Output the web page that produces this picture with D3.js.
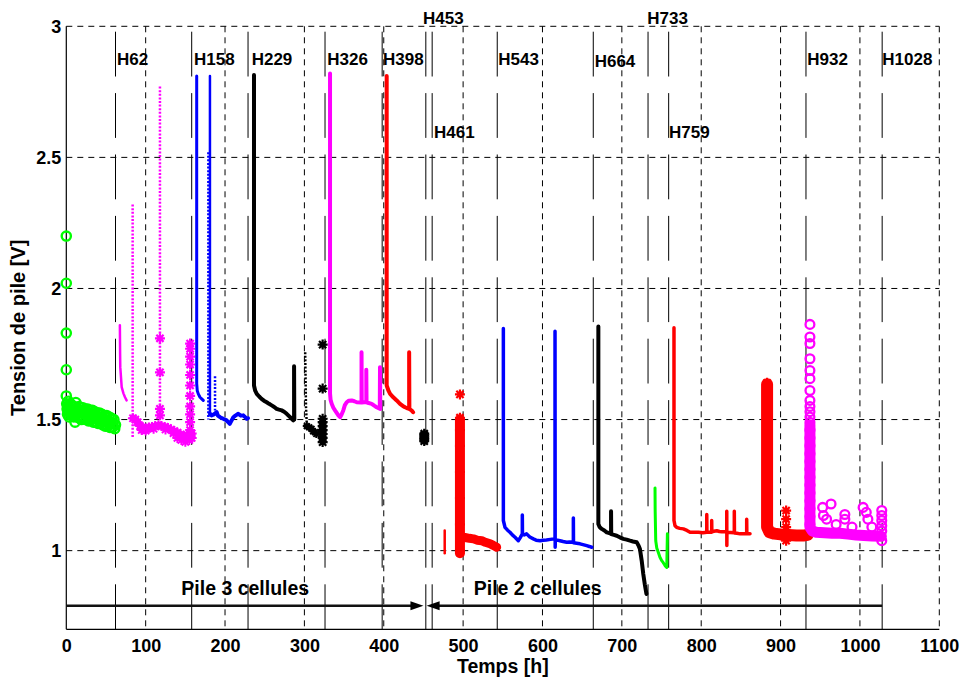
<!DOCTYPE html>
<html><head><meta charset="utf-8">
<script src="https://cdn.jsdelivr.net/npm/d3@7"></script>
<style>
html,body{margin:0;padding:0;background:#fff;}
svg{display:block;}
text{font-family:"Liberation Sans",Arial,Helvetica,sans-serif;font-weight:bold;fill:#000;}
</style></head><body>
<svg id="c" width="963" height="677"></svg>
<script>
// ---------- axis / ticks ----------
const xTicks = [0,100,200,300,400,500,600,700,800,900,1000,1100];
const yTicks = [1,1.5,2,2.5,3];
const xTitle = "Temps [h]";
const yTitle = "Tension de pile [V]";

// ---------- event markers ----------
const eventHours = [62,158,229,326,398,453,461,543,664,733,759,932,1028];
const eventLabelX = [63.9,160.9,233.6,328.9,399,449.5,463.3,544.4,665.8,732.1,759.4,933.7,1028.2];
const eventLabelV = [2.852,2.852,2.852,2.852,2.852,3.009,2.573,2.852,2.846,3.009,2.573,2.852,2.852];

// ---------- stack annotations ----------
const pileLabels = ["Pile 3 cellules","Pile 2 cellules"];
const pileLabelX = [225.5,594];
const pileLabelV = 0.831;
const arrowV = 0.79;
const arrow3 = [0,450];     // from, tip
const arrow2 = [1028,454];  // from, tip

// ---------- measured series ----------
const greenCircles = [
[0,2.20],[0,2.02],[0,1.83],[0,1.69],[0,1.59],
[0.5,1.56],[1,1.54],[1.5,1.52],[2,1.55],[2.5,1.57],[3,1.53],[3.5,1.51],[4,1.545],[5,1.56],[5.5,1.52],[6,1.54],[7,1.555],[7.5,1.515],[8,1.535],[9,1.55],[9.5,1.51],[10,1.53],[11,1.49],[12,1.565],[12.5,1.52],[13,1.545],[14,1.51],[15,1.535],[16,1.55],[16.5,1.505],[17,1.525],[18,1.545],[19,1.50],[20,1.53],[21,1.545],[22,1.505],[23,1.525],[24,1.54],[25,1.50],[26,1.52],[27,1.54],[28,1.495],[29,1.515],[30,1.535],[31,1.50],[32,1.52],[33,1.535],[34,1.49],[35,1.51],[36,1.53],[37,1.49],[38,1.505],[39,1.525],[40,1.485],[41,1.505],[42,1.525],[43,1.485],[44,1.50],[45,1.52],[46,1.48],[47,1.50],[48,1.515],[49,1.475],[50,1.495],[51,1.515],[52,1.475],[53,1.49],[54,1.51],[55,1.47],[56,1.49],[57,1.505],[58,1.47],[59,1.485],[60,1.50],[61,1.465],[62,1.48]
];
const magenta1 = [[67.5,1.86],[67.8,1.75],[68,1.70],[69.8,1.624],[72,1.60],[74,1.585],[76,1.573]];
const magentaDot1 = [[83.6,2.32],[83.6,1.43]];
const magentaDot2 = [[118,2.77],[118,1.47]];
const magentaStarsA = [[118,1.81],[118,1.68],[118,1.541],[118,1.516]];
const magentaBand = [[84,1.505],[87,1.50],[90,1.49],[93,1.475],[95,1.46],[98,1.465],[101,1.465],[104,1.47],[108,1.472],[112,1.475],[116,1.478],[120,1.475],[124,1.472],[128,1.468],[132,1.462],[136,1.456],[140,1.45],[144,1.443],[148,1.438],[152,1.44],[156,1.443],[158,1.447]];
const magentaStarsB = [[140,1.43],[145,1.422],[150,1.415],[155,1.422],[158,1.43],[100,1.458],[110,1.465],[125,1.462],[135,1.448]];
const magentaStarsCol = [[156,1.79],[156,1.77],[156,1.74],[156,1.71],[156,1.67],[156,1.63],[156,1.59],[156,1.55],[156,1.52],[156,1.49],[156,1.46],[156,1.43]];
const blue1 = [[164.3,2.81],[164.3,1.637],[165,1.61],[166.3,1.598],[168.5,1.585],[170.6,1.579],[172.6,1.573]];
const blue2 = [[181,2.81],[181,1.52]];
const blueDot1 = [[179,2.52],[179,1.50]];
const blueDot2 = [[187.4,1.665],[187.4,1.535]];
const blueBand = [[181,1.522],[183,1.516],[186,1.52],[189.5,1.528],[191,1.515],[193.7,1.509],[197.8,1.503],[200,1.50],[202,1.497],[204,1.49],[206,1.484],[208,1.495],[210.5,1.509],[213,1.515],[216.7,1.522],[220,1.515],[223,1.516],[225,1.51],[227.3,1.503],[229,1.505]];
const black1 = [[236.5,2.814],[236.5,1.63],[238,1.61],[240,1.598],[243,1.588],[246,1.579],[249,1.572],[252.5,1.566],[255.5,1.56],[258.8,1.554],[262,1.548],[265,1.541],[268,1.538],[271.4,1.535],[274.5,1.53],[277.7,1.522],[281,1.512],[284,1.503],[286,1.497],[287,1.50],[287,1.703],[287.3,1.50]];
const blackDot = [[301,1.757],[301.5,1.65],[302,1.55],[303,1.484]];
const blackStarsA = [[303,1.475],[306,1.47],[309,1.465],[311,1.455],[313.4,1.452],[315,1.445]];
const blackStarsCol = [[323,1.786],[323,1.618],[323,1.503],[323,1.49],[323,1.475],[323,1.46],[323,1.445],[323,1.43],[323,1.414]];
const magenta2 = [[332.3,2.82],[332.3,1.60],[333,1.575],[334.4,1.56],[336.5,1.545],[338.6,1.535],[342.8,1.516],[345,1.509],[347,1.52],[349,1.535],[351,1.555],[353.3,1.566],[356,1.572],[359.6,1.573],[363,1.57],[366,1.566],[372,1.565],[372,1.757],[372.3,1.565],[375,1.566],[378,1.566],[378,1.69],[378.3,1.566],[381,1.563],[384.8,1.56],[388,1.553],[391,1.547],[395,1.541],[395.3,1.70],[395.6,1.54]];
const red1 = [[403.7,2.81],[403.7,1.63],[406,1.61],[408,1.598],[412,1.585],[416.3,1.573],[420.5,1.56],[424,1.552],[426.8,1.547],[430,1.543],[432,1.541],[432,1.757],[432.3,1.54],[435,1.535],[437,1.528]];
const blackStarsB = [[451,1.446],[451,1.44],[451,1.432],[451,1.425],[451,1.418]];
const redSmall = [[476.8,1.077],[476.8,0.99]];
const redCol1 = [[496,1.50],[496,0.99]];
const redStars1 = [[496,1.596],[496,1.507],[496,1.46],[496,1.40],[496,1.30],[496,1.20],[496,1.10],[496,1.00]];
const redBand1 = [[496,1.05],[502.4,1.05],[508,1.047],[513,1.045],[518,1.04],[523.4,1.038],[528,1.032],[534,1.026],[538,1.02],[542.3,1.013]];
const blue3 = [[550.7,1.847],[550.7,1.115],[552.8,1.089],[556,1.078],[559,1.07],[562,1.06],[565.4,1.051],[569.6,1.038],[572,1.05],[574.6,1.064],[574.6,1.136],[574.8,1.062],[577,1.06],[580,1.064],[584,1.052],[588.5,1.045],[592,1.04],[597,1.038],[601,1.04],[605,1.041],[610,1.043],[615.8,1.045],[615.8,1.837],[616,1.013],[616.2,1.04],[619,1.04],[622,1.038],[626,1.035],[630.5,1.032],[634,1.033],[638.9,1.032],[638.9,1.125],[639.1,1.03],[643,1.028],[647.3,1.026],[651,1.023],[655.7,1.019],[659,1.016],[662,1.013]];
const black2 = [[670.4,1.855],[670.4,1.102],[672,1.09],[674.6,1.083],[678,1.077],[681,1.07],[686.4,1.065],[686.4,1.15],[686.6,1.063],[690,1.06],[693.5,1.057],[698,1.05],[701.9,1.045],[706,1.042],[710.3,1.038],[714,1.035],[718.7,1.032],[721,1.02],[722.8,1.006],[725,0.962],[727,0.911],[729,0.87],[731,0.835]];
const green2 = [[741.8,1.239],[742,1.15],[742.7,1.038],[744,1.01],[746,0.993],[748,0.975],[750.2,0.962],[752,0.955],[754.4,0.943],[756.6,0.936],[757,1.0],[757.4,1.064]];
const red3 = [[765.7,1.85],[765.7,1.115],[767,1.095],[769,1.089],[773,1.085],[777.5,1.083],[782,1.077],[786,1.07],[791,1.07],[796.4,1.07],[802,1.068],[807,1.07],[807,1.138],[807.2,1.07],[810,1.07],[813.2,1.07],[813.2,1.115],[813.4,1.072],[816,1.074],[819.6,1.076],[823,1.073],[826,1.072],[832.2,1.072],[832.2,1.15],[832.3,1.02],[832.4,1.07],[837,1.069],[841.7,1.068],[841.7,1.15],[841.9,1.067],[845,1.066],[849,1.064],[853,1.064],[857.3,1.064],[857.3,1.12],[857.5,1.064],[861.5,1.064]];
const redBand2 = [[883,1.635],[883,1.09],[886,1.07],[892,1.065],[900,1.062],[910,1.06],[920,1.058],[930,1.058],[934,1.06]];
const redStars2 = [[883,1.64],[883,1.60],[883,1.55],[883,1.50],[883,1.45],[883,1.40],[883,1.35],[883,1.30],[883,1.25],[883,1.20],[883,1.15],[883,1.10],[907,1.153],[907,1.12],[907,1.09],[907,1.06],[907,1.038]];
const magentaCol = [[937,1.48],[937,1.09],[940,1.075],[945,1.07],[955,1.068],[965,1.066],[975,1.066],[985,1.063],[995,1.06],[1005,1.058],[1015,1.056],[1027,1.055]];
const magentaCircles = [[937,1.863],[937,1.815],[937,1.79],[937,1.732],[937,1.687],[937,1.656],[937,1.611],[937,1.573],[937,1.55],[937,1.53],[937,1.51],[937,1.49],[937,1.46],[937,1.43],[937,1.40],[937,1.37],[937,1.34],[937,1.31],[937,1.28],[937,1.25],[937,1.22],[937,1.19],[937,1.16],[937,1.13],[937,1.10],
[953,1.165],[963.6,1.178],[954,1.134],[958,1.12],[981,1.138],[981,1.12],[1004,1.165],[1008,1.146],[1010,1.12],[1027.5,1.153],[1027.5,1.134],[1027.5,1.115],[1027.5,1.095],[1027.5,1.075],[1027.5,1.038],[970,1.10],[990,1.09],[1015,1.09]];

// ---------- drawing ----------
const svg = d3.select("#c");
const x = d3.scaleLinear().domain([0,1100]).range([66.3,939.3]);
const y = d3.scaleLinear().domain([0.7,3]).range([629.3,26.3]);
const [L,R] = x.range(), [B,T] = y.range();

// grid
const g = svg.append("g");
g.selectAll(".vg").data(xTicks.filter(d=>d>0)).join("line")
  .attr("x1",d=>x(d)).attr("x2",d=>x(d)).attr("y1",T).attr("y2",B)
  .attr("stroke","#000").attr("stroke-width",1).attr("stroke-dasharray","6,5");
g.selectAll(".hg").data(yTicks).join("line")
  .attr("x1",L).attr("x2",R).attr("y1",d=>y(d)).attr("y2",d=>y(d))
  .attr("stroke","#000").attr("stroke-width",1).attr("stroke-dasharray","6,5");

// event lines
g.selectAll(".ev").data(eventHours).join("line")
  .attr("x1",d=>x(d)).attr("x2",d=>x(d)).attr("y1",31.7).attr("y2",B)
  .attr("stroke","#000").attr("stroke-width",1).attr("stroke-dasharray","44.8,16.6");

// axes lines
svg.append("line").attr("x1",L).attr("x2",L).attr("y1",T).attr("y2",B).attr("stroke","#000").attr("stroke-width",1.2);
svg.append("line").attr("x1",L).attr("x2",R).attr("y1",B).attr("y2",B).attr("stroke","#000").attr("stroke-width",1.2);

// axis labels via d3 axes
const xa = svg.append("g").attr("transform",`translate(0,${B})`)
  .call(d3.axisBottom(x).tickValues(xTicks).tickFormat(d3.format("d")).tickSize(0).tickPadding(10));
xa.select(".domain").remove();
xa.selectAll("text").style("font-size","18px").style("font-family","Liberation Sans, Arial, sans-serif").style("font-weight","bold").attr("fill","#000");
const ya = svg.append("g").attr("transform",`translate(${L},0)`)
  .call(d3.axisLeft(y).tickValues(yTicks).tickFormat(d=>String(d)).tickSize(0).tickPadding(5));
ya.select(".domain").remove();
ya.selectAll("text").style("font-size","18px").style("font-family","Liberation Sans, Arial, sans-serif").style("font-weight","bold").attr("fill","#000");

svg.append("text").attr("x",(L+R)/2).attr("y",673).attr("text-anchor","middle").style("font-size","19.5px").text(xTitle);
svg.append("text").attr("transform",`translate(25,${(T+B)/2}) rotate(-90)`).attr("text-anchor","middle").style("font-size","20px").text(yTitle);

// data helpers
const line = d3.line().x(d=>x(d[0])).y(d=>y(d[1]));
const plotG = svg.append("g");
function path(data,color,w,dash){
  const p = plotG.append("path").attr("d",line(data)).attr("fill","none").attr("stroke",color)
    .attr("stroke-width",w).attr("stroke-linejoin","round").attr("stroke-linecap",dash?"butt":"round");
  if(dash) p.attr("stroke-dasharray",dash);
}
function stars(data,color,s,w){
  const k = s*0.72;
  plotG.append("g").selectAll("path").data(data).join("path")
    .attr("transform",d=>`translate(${x(d[0])},${y(d[1])})`)
    .attr("d",`M${-s},0H${s}M0,${-s}V${s}M${-k},${-k}L${k},${k}M${-k},${k}L${k},${-k}`)
    .attr("stroke",color).attr("stroke-width",w||2).attr("fill","none");
}
function circles(data,color,r,w){
  plotG.append("g").selectAll("circle").data(data).join("circle")
    .attr("cx",d=>x(d[0])).attr("cy",d=>y(d[1])).attr("r",r)
    .attr("fill","none").attr("stroke",color).attr("stroke-width",w);
}
const GRN="#00ff00", MAG="#ff00ff", BLU="#0000ff", RED="#ff0000", BLK="#000000";
const DOT="2,1.6";

circles(greenCircles,GRN,4.6,2.4);
path(magenta1,MAG,2.5);
path(magentaDot1,MAG,2.5,DOT);
path(magentaDot2,MAG,2.5,DOT);
path(magentaBand,MAG,7);
stars(magentaBand,MAG,5,2);
stars(magentaStarsB,MAG,5,2);
stars(magentaStarsA,MAG,5,2.2);
stars(magentaStarsCol,MAG,5,2.2);
path(blue1,BLU,3);
path(blue2,BLU,2.5);
path(blueDot1,BLU,2.5,DOT);
path(blueDot2,BLU,2.5,DOT);
path(blueBand,BLU,4);
path(black1,BLK,4);
path(blackDot,BLK,2.5,DOT);
stars(blackStarsA,BLK,4,2);
stars(blackStarsCol,BLK,5,2.2);
path(magenta2,MAG,4);
path(red1,RED,4);
stars(blackStarsB,BLK,5,2.2);
path(redSmall,RED,2.5);
path(redCol1,RED,10);
stars(redStars1,RED,5,2.2);
path(redBand1,RED,9);
path(blue3,BLU,3.5);
path(black2,BLK,4);
path(green2,GRN,3);
path(red3,RED,3.5);
path(redBand2,RED,12);
stars(redStars2,RED,5,2.2);
path(magentaCol,MAG,11);
circles(magentaCircles,MAG,4.4,2.3);

// event labels
svg.append("g").selectAll("text").data(eventHours).join("text")
  .attr("x",(d,i)=>x(eventLabelX[i])).attr("y",(d,i)=>y(eventLabelV[i]))
  .style("font-size","17px").text(d=>"H"+d);

// stack annotation
const ay = y(arrowV);
svg.append("line").attr("x1",x(arrow3[0])).attr("x2",x(arrow3[1])-8).attr("y1",ay).attr("y2",ay).attr("stroke","#111").attr("stroke-width",2.5);
svg.append("line").attr("x1",x(arrow2[0])).attr("x2",x(arrow2[1])+8).attr("y1",ay).attr("y2",ay).attr("stroke","#111").attr("stroke-width",2.5);
svg.append("path").attr("d",`M${x(arrow3[1])},${ay}L${x(arrow3[1])-13},${ay-4.5}L${x(arrow3[1])-13},${ay+4.5}Z`).attr("fill","#000");
svg.append("path").attr("d",`M${x(arrow2[1])},${ay}L${x(arrow2[1])+13},${ay-4.5}L${x(arrow2[1])+13},${ay+4.5}Z`).attr("fill","#000");
svg.append("g").selectAll("text").data(pileLabels).join("text")
  .attr("x",(d,i)=>x(pileLabelX[i])).attr("y",y(pileLabelV)).attr("text-anchor","middle")
  .style("font-size","19.5px").text(d=>d);
</script>
</body></html>
